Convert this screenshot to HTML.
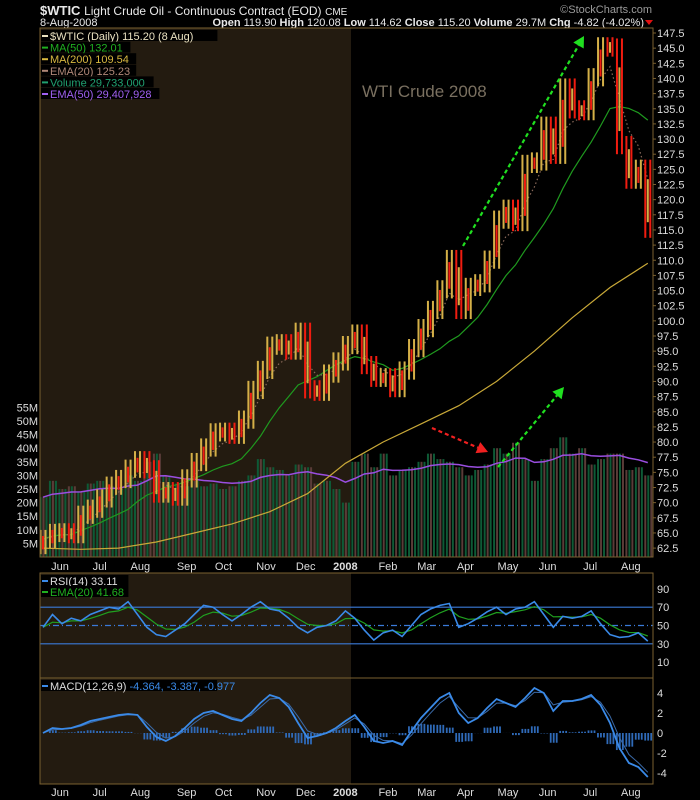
<!DOCTYPE html>
<html><head><meta charset="utf-8"><style>
html,body{margin:0;padding:0;background:#000;}
svg{display:block;font-family:"Liberation Sans",sans-serif;}
</style></head><body>
<svg id="c" width="700" height="800" viewBox="0 0 700 800" xmlns="http://www.w3.org/2000/svg">
<rect x="0" y="0" width="700" height="800" fill="#000"/>
<g>
<text x="40" y="15" fill="#e8e8e8" font-size="13" font-weight="bold">$WTIC <tspan font-weight="normal" font-size="12">Light Crude Oil - Continuous Contract (EOD)</tspan> <tspan font-weight="normal" font-size="10">CME</tspan></text>
<text x="652" y="13" fill="#9a9a9a" font-size="11" text-anchor="end">©StockCharts.com</text>
<text x="40" y="26" fill="#e8e8e8" font-size="11">8-Aug-2008</text>
<text x="644" y="26" fill="#e8e8e8" font-size="11" text-anchor="end"><tspan font-weight="bold">Open</tspan> 119.90 <tspan font-weight="bold">High</tspan> 120.08 <tspan font-weight="bold">Low</tspan> 114.62 <tspan font-weight="bold">Close</tspan> 115.20 <tspan font-weight="bold">Volume</tspan> 29.7M <tspan font-weight="bold">Chg</tspan> -4.82 (-4.02%)</text>
<path d="M645 20 L653 20 L649 25 Z" fill="#e01010"/>
</g>
<g id="g"></g>
</svg>
<script>
// ---- data (weekly, 18-May-2007 .. 8-Aug-2008) ----
const closes=[64,65,65.1,64.8,68,69,70.7,72.8,73.9,75.6,77,75.5,71.5,71.9,71,74,76.7,79.1,81.6,81.7,81.2,83.7,88.6,91.9,95.9,96.3,95.1,98.2,88.7,88.3,91.3,93.3,96,97.9,92.7,90.6,90.7,88.9,91.8,95.5,98.8,101.8,105.2,110.2,101.8,105.6,106.2,110.1,116.7,118.5,116.3,125.9,126.3,132.2,127.4,138.5,134.9,134.6,140.2,145.3,145.1,129,123.3,125.1,115.2];
const ma200Samples=[62.5,62.3,62.5,63.5,65,66.5,68.5,71.5,76.5,80,83,86,90,95,100.5,105.5,109.5];
const volumes=[22,28,25,26,24,27,28,26,25,30,28,35,38,30,27,26,28,26,27,25,26,28,30,36,33,32,30,34,33,27,28,25,20,35,38,33,38,30,32,33,35,38,36,35,33,30,32,34,40,38,42,36,28,36,40,44,38,40,34,36,38,38,32,33,30];
const rsi=[48,62,52,58,55,62,66,70,68,76,62,48,40,38,45,52,62,72,70,62,55,62,70,76,68,66,58,48,42,48,50,55,66,58,45,34,42,45,38,50,62,68,72,74,48,52,58,65,70,62,68,70,76,62,48,60,58,60,66,52,40,37,38,42,33];
const macd=[0,0.5,0.4,0.5,0.8,1.2,1.4,1.6,1.8,1.9,1.8,0.6,-0.4,-0.8,-0.3,0.5,1.4,2.0,2.2,1.8,1.4,1.2,2.0,3.0,3.8,3.5,2.6,1.0,-0.5,-0.3,0.0,0.5,1.2,1.8,0.6,-0.8,-1.0,-0.8,-1.2,0.2,1.5,2.5,3.5,4.0,2.0,1.0,1.5,2.5,3.4,3.0,2.6,3.5,4.5,4.0,2.2,3.2,3.2,3.4,3.8,2.8,1.0,-1.5,-3.0,-3.4,-4.4];
const priceTicks=[147.5,145,142.5,140,137.5,135,132.5,130,127.5,125,122.5,120,117.5,115,112.5,110,107.5,105,102.5,100,97.5,95,92.5,90,87.5,85,82.5,80,77.5,75,72.5,70,67.5,65,62.5];
const volTicks=[5,10,15,20,25,30,35,40,45,50,55];
const rsiTicks=[90,70,50,30,10];
const macdTicks=[4,2,0,-2,-4];
const monthLabels=["Jun","Jul","Aug","Sep","Oct","Nov","Dec","2008","Feb","Mar","Apr","May","Jun","Jul","Aug"];
const monthWeeks=[1.8,6,10.3,15.2,19.1,23.6,27.8,32,36.5,40.6,44.7,49.2,53.4,57.9,62.2];

// ---- scales ----
const L=40,R=653;
const xw=w=>43+w*9.45;
const py=v=>33+(147.5-v)*6.06;
const vy=v=>557-v*2.72;
const ry=v=>625.5-(v-50)*0.915;
const my=v=>733-v*10;
const NS="http://www.w3.org/2000/svg";
const G=document.getElementById('g');
function mk(tag,attrs,parent){const e=document.createElementNS(NS,tag);for(const k in attrs)e.setAttribute(k,attrs[k]);(parent||G).appendChild(e);return e;}
function sma(a,n){return a.map((_,i)=>{const s=a.slice(Math.max(0,i-n+1),i+1);return s.reduce((p,q)=>p+q,0)/s.length;});}
function ema(a,n){const k=2/(n+1);let out=[];a.forEach((v,i)=>out.push(i?out[i-1]+k*(v-out[i-1]):v));return out;}
function pathOf(arr,yf,xf){return arr.map((v,i)=>(i?'L':'M')+xf(i).toFixed(1)+' '+yf(v).toFixed(1)).join(' ');}

// ---- panels ----
const panels=[[28,557,'price-panel'],[573,678,'rsi-panel'],[678,784,'macd-panel']];
panels.forEach(p=>{
  let r=mk('rect',{x:L,y:p[0],width:R-L,height:p[1]-p[0],fill:'#000'});
  
  
  let s=mk('rect',{x:L,y:p[0],width:351-L,height:p[1]-p[0],fill:'#231b10'});
  
  
});

// ---- volume ----
const volE=ema(volumes,10);
volumes.forEach((v,i)=>{
  const up=i===0||closes[i]>=closes[i-1];
  [-3.5,-0.5,2.5].forEach((dx,k)=>{
    const b=mk('rect',{x:xw(i)+dx,y:vy(v),width:2,height:557-vy(v),fill:(k===1)===up?'#5a3c38':'#0e5a36'});
    
    
  });
});
let vp=mk('path',{d:pathOf(volE,vy,xw),fill:'none',stroke:'#9a4ee0','stroke-width':1.5});



// ---- moving averages ----
let m200=mk('path',{d:pathOf(ma200Samples,py,i=>xw(i*4)),fill:'none',stroke:'#c8a838','stroke-width':1.2});


let m50=mk('path',{d:pathOf(sma(closes,10),py,xw),fill:'none',stroke:'#1f9a1f','stroke-width':1.2});


let e20=mk('path',{d:pathOf(ema(closes,4),py,xw),fill:'none',stroke:'#8a6a5a','stroke-width':1.2,'stroke-dasharray':'1.5 2.5'});



// ---- price bars ----
closes.forEach((c,i)=>{
  const o=i?closes[i-1]:63;
  const hi=Math.max(o,c)+1.5, lo=Math.min(o,c)-1.5;
  const up=c>=o;
  const a=up?'#d4b048':'#f01c10', b2=up?'#f01c10':'#d4b048';
  [[-3.5,a],[-1,b2],[1.5,a]].forEach((s,k)=>{
    const t=k===1?0.25:0;
    const yTop=py(hi)+(py(lo)-py(hi))*t, yBot=py(lo)-(py(lo)-py(hi))*(k===1?0.2:0);
    const b=mk('rect',{x:xw(i)+s[0],y:yTop,width:2,height:Math.max(1,yBot-yTop),fill:s[1]});
    
    
  });
});

// ---- annotations ----
function arrow(x1,y1,x2,y2,col,name){
  const a=Math.atan2(y2-y1,x2-x1),h=11;
  const bx=x2-h*Math.cos(a),by=y2-h*Math.sin(a);
  const g=mk('g',{});
  
  
  mk('line',{x1:x1,y1:y1,x2:bx,y2:by,stroke:col,'stroke-width':2.2,'stroke-dasharray':'4 3'},g);
  const px=-Math.sin(a)*6,pyy=Math.cos(a)*6;
  mk('path',{d:`M${x2} ${y2} L${bx+px} ${by+pyy} L${bx-px} ${by-pyy} Z`,fill:col},g);
}
arrow(463,246,584,36,'#20e020','trend-arrow-up');
arrow(498,467,564,387,'#20e020','volume-arrow-up');
arrow(432,428,488,452,'#f02020','volume-arrow-down');
let wt=mk('text',{x:362,y:97,fill:'#7a7060','font-size':17});
wt.textContent='WTI Crude 2008';



// ---- legend ----
const leg=[['$WTIC (Daily) 115.20 (8 Aug)','#e8e0c0'],['MA(50) 132.01','#20b020'],['MA(200) 109.54','#d8b840'],['EMA(20) 125.23','#b08878'],['Volume 29,733,000','#20a070'],['EMA(50) 29,407,928','#a060f0']];
leg.forEach((l,i)=>{
  const y=36+i*11.6;
  const bg=mk('rect',{x:41,y:y-6,width:l[0].length*5.8+14,height:11,fill:'#000'});
  
  
  const sw=mk('rect',{x:42,y:y-1,width:6,height:2,fill:l[1]});
  
  
  const t=mk('text',{x:50,y:y+4,fill:l[1],'font-size':11});
  t.textContent=l[0];
  
  
});

// ---- axes ----
priceTicks.forEach(v=>{
  const t=mk('text',{x:657,y:py(v)+4,fill:'#ddd','font-size':11});
  t.textContent=v.toFixed(1);
  
  
  mk('line',{x1:R,x2:R+3,y1:py(v),y2:py(v),stroke:'#7a6030'});
});
volTicks.forEach(v=>{
  const t=mk('text',{x:38,y:vy(v)+4,fill:'#ddd','font-size':11,'text-anchor':'end'});
  t.textContent=v+'M';
  
  
});
[566,792].forEach(yy=>{
  monthLabels.forEach((m,i)=>{
    const t=mk('text',{x:xw(monthWeeks[i]),y:yy+4,fill:'#ddd','font-size':11,'text-anchor':'middle','font-weight':m==='2008'?'bold':'normal'});
    t.textContent=m;
    
    
  });
});

// ---- RSI ----
[[70,'0'],[30,'0'],[50,'6 3 1 3']].forEach(h=>{
  const l=mk('line',{x1:L,x2:R,y1:ry(h[0]),y2:ry(h[0]),stroke:'#3a7ad8','stroke-width':1.2,'stroke-dasharray':h[1]});
  
  
});
let re=mk('path',{d:pathOf(ema(rsi,4),ry,xw),fill:'none',stroke:'#20a020','stroke-width':1.2});


let rl=mk('path',{d:pathOf(rsi,ry,xw),fill:'none',stroke:'#3a8ae8','stroke-width':1.6});


rsiTicks.forEach(v=>{
  const t=mk('text',{x:657,y:ry(v)+4,fill:'#ddd','font-size':11});
  t.textContent=v;
  
  
});
[['RSI(14) 33.11','#3a8ae8',581],['EMA(20) 41.68','#20b020',592]].forEach(l=>{
  const bg=mk('rect',{x:41,y:l[2]-6,width:l[0].length*5.8+12,height:11,fill:'#000'});
  
  
  const t=mk('text',{x:50,y:l[2]+4,fill:l[0].startsWith('RSI')?'#ddd':l[1],'font-size':11});
  t.textContent=l[0];
  
  
  const sw=mk('rect',{x:42,y:l[2]-1,width:6,height:2,fill:l[1]});
  
  
});

// ---- MACD ----
const sig=ema(macd,2);
macd.forEach((v,i)=>{
  const h=(v-sig[i])*1.6;
  [-3.5,-0.5,2.5].forEach(dx=>{
    const b=mk('rect',{x:xw(i)+dx,y:Math.min(my(0),my(h)),width:1.8,height:Math.abs(my(h)-my(0)),fill:'#2f6ab8'});
    
    
  });
});
let ms=mk('path',{d:pathOf(sig,my,xw),fill:'none',stroke:'#3a6aa8','stroke-width':1});


let ml=mk('path',{d:pathOf(macd,my,xw),fill:'none',stroke:'#3a8ae8','stroke-width':1.8});


macdTicks.forEach(v=>{
  const t=mk('text',{x:657,y:my(v)+4,fill:'#ddd','font-size':11});
  t.textContent=v;
  
  
});
let mbg=mk('rect',{x:41,y:680,width:176,height:11,fill:'#000'});


let msw=mk('rect',{x:42,y:685,width:6,height:2,fill:'#3a8ae8'});


let mt=mk('text',{x:50,y:690,fill:'#ddd','font-size':11});
mt.innerHTML='MACD(12,26,9) <tspan fill="#3a8ae8">-4.364, -3.387, -0.977</tspan>';



// ---- panel borders ----
panels.forEach(p=>{
  const r=mk('rect',{x:L,y:p[0],width:R-L,height:p[1]-p[0],fill:'none',stroke:'#7a6030','stroke-width':1});
  
  
});
</script>
</body></html>
